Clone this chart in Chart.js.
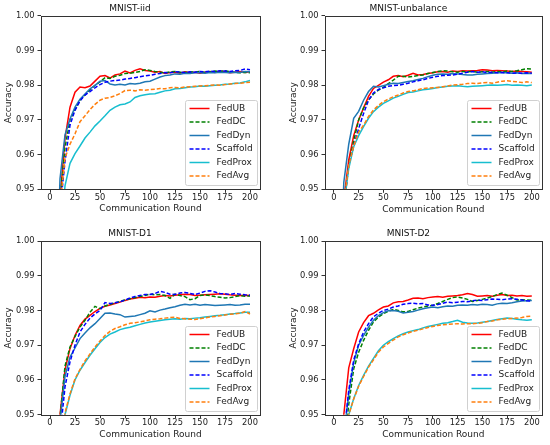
<!DOCTYPE html>
<html>
<head>
<meta charset="utf-8">
<script src="https://cdn.jsdelivr.net/npm/chart.js@4.4.0/dist/chart.umd.min.js"></script>
<style>
body { margin: 0; background: #fff; }
#wrap { position: relative; width: 550px; height: 445px; }
canvas { position: absolute; }
</style>
</head>
<body>
<div id="wrap">
  <canvas id="c1" width="275" height="222" style="left:0;top:0"></canvas>
  <canvas id="c2" width="275" height="222" style="left:275px;top:0"></canvas>
  <canvas id="c3" width="275" height="223" style="left:0;top:222px"></canvas>
  <canvas id="c4" width="275" height="223" style="left:275px;top:222px"></canvas>
</div>
<script>
// communication rounds sampled from the curves
const rounds = [1, 5, 10, 15, 20, 25, 30, 35, 40, 45, 50, 55, 60, 65, 70, 75, 80, 85, 90, 95, 100,
  105, 110, 115, 120, 125, 130, 135, 140, 145, 150, 155, 160, 165, 170, 175, 180, 185, 190, 195, 200];
const xTicks = [0, 25, 50, 75, 100, 125, 150, 175, 200];
const yTicks = [0.95, 0.96, 0.97, 0.98, 0.99, 1.00];
const methods = ['FedUB', 'FedDC', 'FedDyn', 'Scaffold', 'FedProx', 'FedAvg'];
const titles = ['MNIST-iid', 'MNIST-unbalance', 'MNIST-D1', 'MNIST-D2'];

// MNIST-iid
const iidFedUB = [0.80, 0.90, 0.947, 0.9647, 0.9737, 0.9780, 0.9795, 0.9793, 0.9798, 0.9812, 0.9826, 0.9828, 0.9821, 0.9830, 0.9833, 0.9841, 0.9836, 0.9843, 0.9848, 0.9843, 0.9841,
  0.9838, 0.9840, 0.9834, 0.9837, 0.9838, 0.9835, 0.9839, 0.9836, 0.9838, 0.9835, 0.9838, 0.9840, 0.9837, 0.9841, 0.9839, 0.9836, 0.9838, 0.9840, 0.9837, 0.9839];
const iidFedDC = [0.80, 0.90, 0.947, 0.9620, 0.9700, 0.9730, 0.9757, 0.9772, 0.9787, 0.9800, 0.9810, 0.9822, 0.9820, 0.9826, 0.9829, 0.9834, 0.9835, 0.9837, 0.9840, 0.9845, 0.9843,
  0.9840, 0.9838, 0.9836, 0.9839, 0.9840, 0.9838, 0.9837, 0.9839, 0.9838, 0.9840, 0.9837, 0.9839, 0.9841, 0.9840, 0.9842, 0.9839, 0.9838, 0.9836, 0.9838, 0.9836];
const iidFedDyn = [0.82, 0.91, 0.953, 0.9657, 0.9703, 0.9737, 0.9760, 0.9775, 0.9790, 0.9800, 0.9812, 0.9814, 0.9804, 0.9801, 0.9803, 0.9801, 0.9805, 0.9804, 0.9806, 0.9810, 0.9812,
  0.9818, 0.9824, 0.9828, 0.9830, 0.9833, 0.9832, 0.9835, 0.9834, 0.9836, 0.9836, 0.9835, 0.9837, 0.9836, 0.9838, 0.9837, 0.9836, 0.9838, 0.9837, 0.9840, 0.9839];
const iidScaffold = [0.80, 0.89, 0.944, 0.9580, 0.9685, 0.9728, 0.9755, 0.9772, 0.9782, 0.9793, 0.9802, 0.9809, 0.9812, 0.9814, 0.9815, 0.9818, 0.9820, 0.9822, 0.9825, 0.9827, 0.9829,
  0.9832, 0.9834, 0.9837, 0.9836, 0.9839, 0.9838, 0.9837, 0.9839, 0.9838, 0.9840, 0.9839, 0.9841, 0.9840, 0.9842, 0.9841, 0.9840, 0.9842, 0.9843, 0.9847, 0.9845];
const iidFedProx = [0.78, 0.86, 0.935, 0.9510, 0.9575, 0.9603, 0.9625, 0.9648, 0.9665, 0.9683, 0.9697, 0.9712, 0.9728, 0.9737, 0.9744, 0.9746, 0.9752, 0.9765, 0.9770, 0.9773, 0.9775,
  0.9776, 0.9780, 0.9784, 0.9786, 0.9790, 0.9791, 0.9793, 0.9795, 0.9796, 0.9798, 0.9797, 0.9799, 0.9800, 0.9801, 0.9803, 0.9804, 0.9806, 0.9807, 0.9810, 0.9814];
const iidFedAvg = [0.79, 0.88, 0.945, 0.9590, 0.9630, 0.9660, 0.9695, 0.9712, 0.9730, 0.9745, 0.9757, 0.9763, 0.9765, 0.9770, 0.9776, 0.9785, 0.9786, 0.9784, 0.9787, 0.9786, 0.9788,
  0.9789, 0.9791, 0.9790, 0.9793, 0.9794, 0.9793, 0.9795, 0.9796, 0.9797, 0.9798, 0.9799, 0.9800, 0.9801, 0.9800, 0.9802, 0.9804, 0.9805, 0.9806, 0.9808, 0.9809];

// MNIST-unbalance
const unbFedUB = [0.80, 0.90, 0.947, 0.9585, 0.9655, 0.9700, 0.9735, 0.9768, 0.9791, 0.9800, 0.9809, 0.9816, 0.9826, 0.9828, 0.9825, 0.9829, 0.9835, 0.9830, 0.9831, 0.9834, 0.9836,
  0.9839, 0.9840, 0.9838, 0.9841, 0.9840, 0.9842, 0.9841, 0.9842, 0.9843, 0.9845, 0.9844, 0.9842, 0.9843, 0.9842, 0.9841, 0.9840, 0.9841, 0.9840, 0.9839, 0.9838];
const unbFedDC = [0.79, 0.89, 0.945, 0.9570, 0.9640, 0.9700, 0.9735, 0.9758, 0.9775, 0.9786, 0.9794, 0.9805, 0.9815, 0.9826, 0.9826, 0.9824, 0.9826, 0.9828, 0.9830, 0.9834, 0.9837,
  0.9840, 0.9842, 0.9841, 0.9839, 0.9838, 0.9840, 0.9839, 0.9840, 0.9838, 0.9839, 0.9840, 0.9838, 0.9840, 0.9839, 0.9841, 0.9840, 0.9842, 0.9845, 0.9848, 0.9847];
const unbFedDyn = [0.82, 0.91, 0.952, 0.9630, 0.9705, 0.9725, 0.9757, 0.9782, 0.9797, 0.9795, 0.9799, 0.9803, 0.9806, 0.9805, 0.9808, 0.9811, 0.9813, 0.9817, 0.9820, 0.9825, 0.9829,
  0.9832, 0.9833, 0.9832, 0.9834, 0.9833, 0.9831, 0.9830, 0.9830, 0.9832, 0.9833, 0.9834, 0.9835, 0.9836, 0.9837, 0.9836, 0.9835, 0.9836, 0.9834, 0.9835, 0.9834];
const unbScaffold = [0.79, 0.89, 0.945, 0.9570, 0.9625, 0.9675, 0.9719, 0.9757, 0.9778, 0.9788, 0.9793, 0.9797, 0.9799, 0.9800, 0.9803, 0.9806, 0.9810, 0.9813, 0.9816, 0.9820, 0.9823,
  0.9826, 0.9828, 0.9829, 0.9830, 0.9832, 0.9835, 0.9838, 0.9840, 0.9838, 0.9839, 0.9837, 0.9838, 0.9836, 0.9837, 0.9836, 0.9835, 0.9836, 0.9835, 0.9836, 0.9835];
const unbFedProx = [0.79, 0.89, 0.945, 0.9560, 0.9623, 0.9655, 0.9681, 0.9705, 0.9724, 0.9737, 0.9748, 0.9755, 0.9763, 0.9768, 0.9774, 0.9779, 0.9781, 0.9784, 0.9787, 0.9789, 0.9791,
  0.9794, 0.9795, 0.9797, 0.9798, 0.9799, 0.9797, 0.9796, 0.9797, 0.9798, 0.9799, 0.9800, 0.9801, 0.9800, 0.9801, 0.9802, 0.9800, 0.9801, 0.9800, 0.9799, 0.9801];
const unbFedAvg = [0.79, 0.89, 0.946, 0.9570, 0.9625, 0.9665, 0.9685, 0.9710, 0.9729, 0.9742, 0.9753, 0.9760, 0.9767, 0.9772, 0.9778, 0.9782, 0.9784, 0.9787, 0.9791, 0.9792, 0.9793,
  0.9794, 0.9796, 0.9798, 0.9801, 0.9802, 0.9803, 0.9805, 0.9806, 0.9805, 0.9807, 0.9808, 0.9806, 0.9809, 0.9812, 0.9813, 0.9811, 0.9810, 0.9808, 0.9810, 0.9808];

// MNIST-D1
const d1FedUB = [0.80, 0.90, 0.950, 0.9630, 0.9690, 0.9728, 0.9757, 0.9775, 0.9786, 0.9797, 0.9806, 0.9812, 0.9816, 0.9820, 0.9824, 0.9829, 0.9833, 0.9835, 0.9838, 0.9837, 0.9839,
  0.9838, 0.9841, 0.9843, 0.9842, 0.9844, 0.9845, 0.9847, 0.9846, 0.9843, 0.9844, 0.9845, 0.9846, 0.9847, 0.9848, 0.9847, 0.9845, 0.9844, 0.9843, 0.9844, 0.9843];
const d1FedDC = [0.80, 0.90, 0.949, 0.9640, 0.9695, 0.9725, 0.9752, 0.9772, 0.9795, 0.9812, 0.9805, 0.9813, 0.9818, 0.9822, 0.9826, 0.9830, 0.9834, 0.9837, 0.9840, 0.9843, 0.9847,
  0.9845, 0.9846, 0.9843, 0.9835, 0.9847, 0.9843, 0.9840, 0.9831, 0.9834, 0.9843, 0.9845, 0.9843, 0.9840, 0.9838, 0.9836, 0.9837, 0.9840, 0.9843, 0.9841, 0.9842];
const d1FedDyn = [0.80, 0.90, 0.948, 0.9610, 0.9666, 0.9692, 0.9719, 0.9735, 0.9750, 0.9762, 0.9777, 0.9792, 0.9793, 0.9790, 0.9788, 0.9781, 0.9783, 0.9784, 0.9788, 0.9792, 0.9799,
  0.9796, 0.9801, 0.9804, 0.9808, 0.9811, 0.9815, 0.9818, 0.9816, 0.9818, 0.9815, 0.9817, 0.9816, 0.9814, 0.9815, 0.9816, 0.9817, 0.9815, 0.9816, 0.9818, 0.9818];
const d1Scaffold = [0.79, 0.89, 0.944, 0.9580, 0.9652, 0.9700, 0.9738, 0.9760, 0.9778, 0.9790, 0.9800, 0.9823, 0.9820, 0.9822, 0.9825, 0.9830, 0.9836, 0.9840, 0.9843, 0.9846, 0.9846,
  0.9849, 0.9855, 0.9852, 0.9847, 0.9846, 0.9850, 0.9852, 0.9849, 0.9846, 0.9850, 0.9855, 0.9857, 0.9853, 0.9849, 0.9848, 0.9846, 0.9849, 0.9847, 0.9845, 0.9844];
const d1FedProx = [0.78, 0.86, 0.932, 0.9500, 0.9556, 0.9600, 0.9628, 0.9650, 0.9671, 0.9690, 0.9708, 0.9722, 0.9732, 0.9738, 0.9745, 0.9749, 0.9752, 0.9756, 0.9760, 0.9764, 0.9767,
  0.9769, 0.9771, 0.9773, 0.9775, 0.9776, 0.9775, 0.9777, 0.9776, 0.9778, 0.9779, 0.9781, 0.9783, 0.9785, 0.9786, 0.9788, 0.9790, 0.9791, 0.9793, 0.9795, 0.9795];
const d1FedAvg = [0.78, 0.86, 0.933, 0.9505, 0.9560, 0.9603, 0.9630, 0.9655, 0.9675, 0.9695, 0.9712, 0.9728, 0.9740, 0.9748, 0.9753, 0.9759, 0.9763, 0.9765, 0.9767, 0.9770, 0.9773,
  0.9775, 0.9776, 0.9778, 0.9780, 0.9781, 0.9777, 0.9776, 0.9775, 0.9774, 0.9776, 0.9779, 0.9781, 0.9783, 0.9785, 0.9787, 0.9789, 0.9790, 0.9792, 0.9797, 0.9790];

// MNIST-D2
const d2FedUB = [0.80, 0.90, 0.950, 0.9635, 0.9690, 0.9738, 0.9765, 0.9785, 0.9792, 0.9802, 0.9810, 0.9813, 0.9822, 0.9825, 0.9826, 0.9830, 0.9835, 0.9836, 0.9834, 0.9837, 0.9839,
  0.9840, 0.9838, 0.9841, 0.9842, 0.9843, 0.9845, 0.9849, 0.9846, 0.9841, 0.9842, 0.9843, 0.9841, 0.9844, 0.9846, 0.9843, 0.9844, 0.9842, 0.9843, 0.9841, 0.9842];
const d2FedDC = [0.78, 0.87, 0.940, 0.9530, 0.9632, 0.9680, 0.9714, 0.9743, 0.9767, 0.9781, 0.9791, 0.9798, 0.9803, 0.9800, 0.9796, 0.9797, 0.9802, 0.9807, 0.9810, 0.9813, 0.9815,
  0.9820, 0.9826, 0.9832, 0.9837, 0.9839, 0.9836, 0.9832, 0.9826, 0.9829, 0.9832, 0.9836, 0.9840, 0.9846, 0.9850, 0.9844, 0.9837, 0.9830, 0.9831, 0.9830, 0.9829];
const d2FedDyn = [0.79, 0.88, 0.944, 0.9560, 0.9650, 0.9700, 0.9728, 0.9752, 0.9772, 0.9785, 0.9794, 0.9799, 0.9800, 0.9798, 0.9793, 0.9795, 0.9797, 0.9801, 0.9805, 0.9808, 0.9810,
  0.9808, 0.9811, 0.9813, 0.9812, 0.9815, 0.9816, 0.9815, 0.9817, 0.9816, 0.9818, 0.9817, 0.9815, 0.9819, 0.9821, 0.9820, 0.9822, 0.9825, 0.9827, 0.9828, 0.9829];
const d2Scaffold = [0.79, 0.88, 0.944, 0.9570, 0.9657, 0.9704, 0.9738, 0.9762, 0.9782, 0.9792, 0.9800, 0.9804, 0.9810, 0.9813, 0.9818, 0.9820, 0.9821, 0.9819, 0.9820, 0.9816, 0.9815,
  0.9817, 0.9821, 0.9824, 0.9822, 0.9824, 0.9826, 0.9825, 0.9828, 0.9830, 0.9829, 0.9831, 0.9833, 0.9832, 0.9831, 0.9833, 0.9834, 0.9832, 0.9830, 0.9828, 0.9827];
const d2FedProx = [0.78, 0.86, 0.930, 0.9500, 0.9546, 0.9584, 0.9613, 0.9640, 0.9662, 0.9684, 0.9700, 0.9710, 0.9719, 0.9727, 0.9733, 0.9738, 0.9742, 0.9745, 0.9750, 0.9754, 0.9757,
  0.9760, 0.9763, 0.9765, 0.9768, 0.9772, 0.9766, 0.9764, 0.9763, 0.9764, 0.9766, 0.9768, 0.9771, 0.9774, 0.9776, 0.9778, 0.9777, 0.9775, 0.9773, 0.9772, 0.9773];
const d2FedAvg = [0.78, 0.86, 0.930, 0.9500, 0.9545, 0.9582, 0.9610, 0.9637, 0.9658, 0.9680, 0.9695, 0.9705, 0.9715, 0.9724, 0.9730, 0.9735, 0.9740, 0.9743, 0.9747, 0.9751, 0.9754,
  0.9757, 0.9759, 0.9760, 0.9761, 0.9762, 0.9761, 0.9762, 0.9762, 0.9763, 0.9765, 0.9768, 0.9770, 0.9773, 0.9775, 0.9776, 0.9777, 0.9778, 0.9780, 0.9783, 0.9784];

const colors = ['#ff0000', '#008000', '#1f77b4', '#0000ff', '#17becf', '#ff7f0e'];
const dashed = [false, true, false, true, false, true];

Chart.defaults.font.family = "'DejaVu Sans', sans-serif";
Chart.defaults.color = '#222';

// frame on all four sides and a matplotlib style legend in the lower right
const framePlugin = {
  id: 'frame',
  afterDatasetsDraw(chart) {
    const { ctx, chartArea: a } = chart;
    ctx.save();
    ctx.strokeStyle = '#333';
    ctx.lineWidth = 1;
    ctx.strokeRect(Math.round(a.left) + 0.5, Math.round(a.top) + 0.5,
      Math.round(a.right - a.left), Math.round(a.bottom - a.top));

    const w = 72, h = 85;
    const x0 = Math.round(a.right - 3 - w) + 0.5;
    const y0 = Math.round(a.bottom - 4 - h) + 0.5;
    ctx.fillStyle = 'rgba(255,255,255,0.85)';
    ctx.strokeStyle = '#d0d0d0';
    ctx.beginPath();
    ctx.roundRect(x0, y0, w, h, 2);
    ctx.fill();
    ctx.stroke();
    ctx.font = "9px 'DejaVu Sans'";
    ctx.textBaseline = 'middle';
    chart.data.datasets.forEach((ds, i) => {
      const y = y0 + 8 + i * 13.5;
      ctx.strokeStyle = ds.borderColor;
      ctx.lineWidth = 1.5;
      ctx.setLineDash(ds.borderDash || []);
      ctx.beginPath();
      ctx.moveTo(x0 + 4, y);
      ctx.lineTo(x0 + 24, y);
      ctx.stroke();
      ctx.setLineDash([]);
      ctx.fillStyle = '#222';
      ctx.fillText(ds.label, x0 + 31, y);
    });
    ctx.restore();
  }
};

function makePanel(id, title, series, lay) {
  const datasets = methods.map((m, i) => ({
    label: m,
    data: rounds.map((r, k) => ({ x: r, y: series[i][k] })),
    borderColor: colors[i],
    borderWidth: 1.5,
    borderDash: dashed[i] ? [4, 2] : [],
    pointRadius: 0,
    tension: 0,
    order: methods.length - i
  }));
  new Chart(document.getElementById(id), {
    type: 'line',
    data: { datasets },
    plugins: [framePlugin],
    options: {
      responsive: false,
      animation: false,
      layout: { padding: { left: 0, right: lay.right, top: 0, bottom: 0 } },
      plugins: {
        legend: { display: false },
        tooltip: { enabled: false },
        title: {
          display: true, text: title, color: '#111',
          font: { size: 9, weight: 'normal' },
          padding: { top: lay.titleTop, bottom: lay.titleBottom }
        }
      },
      scales: {
        x: {
          type: 'linear', min: -9, max: 210,
          afterBuildTicks: s => { s.ticks = xTicks.map(v => ({ value: v })); },
          afterFit: s => { s.height = lay.xHeight; },
          ticks: { font: { size: 8.3 }, padding: 0, maxRotation: 0, color: '#222' },
          grid: { drawOnChartArea: false, tickLength: 3.5, tickColor: '#333' },
          border: { display: false },
          title: {
            display: true, text: 'Communication Round', color: '#222',
            font: { size: 9 }, padding: { top: 0, bottom: lay.xTitle }
          }
        },
        y: {
          min: 0.95, max: 1.0,
          afterBuildTicks: s => { s.ticks = yTicks.map(v => ({ value: v })); },
          afterFit: s => { s.width = lay.left; },
          ticks: { font: { size: 8.3 }, padding: 3, color: '#222', callback: v => v.toFixed(2) },
          grid: { drawOnChartArea: false, tickLength: 3.5, tickColor: '#333' },
          border: { display: false },
          title: {
            display: true, text: 'Accuracy', color: '#222',
            font: { size: 9 }, padding: { top: lay.yTitle, bottom: 0 }
          }
        }
      }
    }
  });
}

makePanel('c1', titles[0], [iidFedUB, iidFedDC, iidFedDyn, iidScaffold, iidFedProx, iidFedAvg],
  { left: 41, right: 15, titleTop: 2.9, titleBottom: 2.3, xHeight: 32.7, xTitle: 7.6, yTitle: 2.9 });
makePanel('c2', titles[1], [unbFedUB, unbFedDC, unbFedDyn, unbScaffold, unbFedProx, unbFedAvg],
  { left: 50, right: 8.3, titleTop: 2.9, titleBottom: 2.3, xHeight: 32.7, xTitle: 7.3, yTitle: 12.9 });
makePanel('c3', titles[2], [d1FedUB, d1FedDC, d1FedDyn, d1Scaffold, d1FedProx, d1FedAvg],
  { left: 41, right: 15, titleTop: 6.3, titleBottom: 1.9, xHeight: 30.3, xTitle: 5.3, yTitle: 2.9 });
makePanel('c4', titles[3], [d2FedUB, d2FedDC, d2FedDyn, d2Scaffold, d2FedProx, d2FedAvg],
  { left: 50, right: 8.3, titleTop: 6.3, titleBottom: 1.9, xHeight: 30.3, xTitle: 5.3, yTitle: 12.9 });
</script>
</body>
</html>
